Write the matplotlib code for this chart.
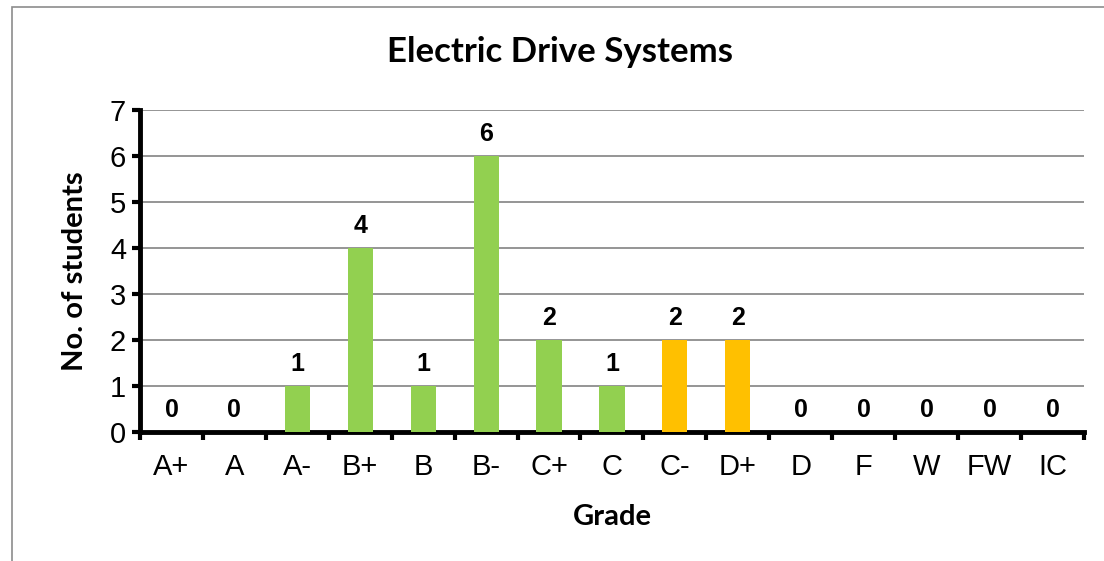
import matplotlib.pyplot as plt
from matplotlib.patches import Rectangle

grades = ['A+', 'A', 'A-', 'B+', 'B', 'B-', 'C+', 'C', 'C-', 'D+', 'D', 'F', 'W', 'FW', 'IC']
students = [0, 0, 1, 4, 1, 6, 2, 1, 2, 2, 0, 0, 0, 0, 0]
highlight = ['C-', 'D+']

green = '#92D050'
orange = '#FFC000'
colors = [orange if g in highlight else green for g in grades]

fig = plt.figure(figsize=(11.04, 5.61), dpi=100)
ax = fig.add_axes([0.1268, 0.2299, 0.855, 0.574])

# chart border
fig.patches.append(Rectangle((12 / 1104, -0.1), 1.2, 1 - 7 / 561 + 0.1, transform=fig.transFigure,
                             fill=False, edgecolor='#8c8c8c', linewidth=1.2))

x = list(range(len(grades)))
ax.bar(x, students, width=0.4, color=colors, zorder=3)

for xi, v in zip(x, students):
    ax.text(xi, v + 0.22, str(v), ha='center', va='bottom', fontsize=18,
            fontweight='bold', family='Liberation Sans', zorder=4)

ax.set_xlim(-0.5, len(grades) - 0.5)
ax.set_ylim(0, 7)
ax.set_yticks(range(8))
ax.set_yticklabels([str(i) for i in range(8)], family='Liberation Sans', fontsize=21)
ax.set_xticks(x)
ax.set_xticklabels(grades, family='Liberation Sans', fontsize=21)
ax.tick_params(axis='x', length=0, pad=15)
ax.set_xticks([i - 0.5 for i in range(len(grades) + 1)], minor=True)
ax.tick_params(axis='x', which='minor', length=6, width=3, direction='out')
ax.tick_params(axis='y', length=6, width=3, direction='out', pad=4)

ax.yaxis.grid(True, color='#8c8c8c', linewidth=1.3, zorder=0)
ax.set_axisbelow(True)
for s in ['top', 'right']:
    ax.spines[s].set_visible(False)
for s in ['left', 'bottom']:
    ax.spines[s].set_linewidth(3.5)

fig.text(0.507, 1 - 52 / 561, 'Electric Drive Systems', fontsize=25, fontweight='bold',
         family='Lato', ha='center', va='center')
ax.set_xlabel('Grade', fontsize=21, fontweight='bold', family='Lato', labelpad=17)
ax.set_ylabel('No. of students', fontsize=21, fontweight='bold', family='Lato', labelpad=16)

fig.savefig('out.png', dpi=100)
